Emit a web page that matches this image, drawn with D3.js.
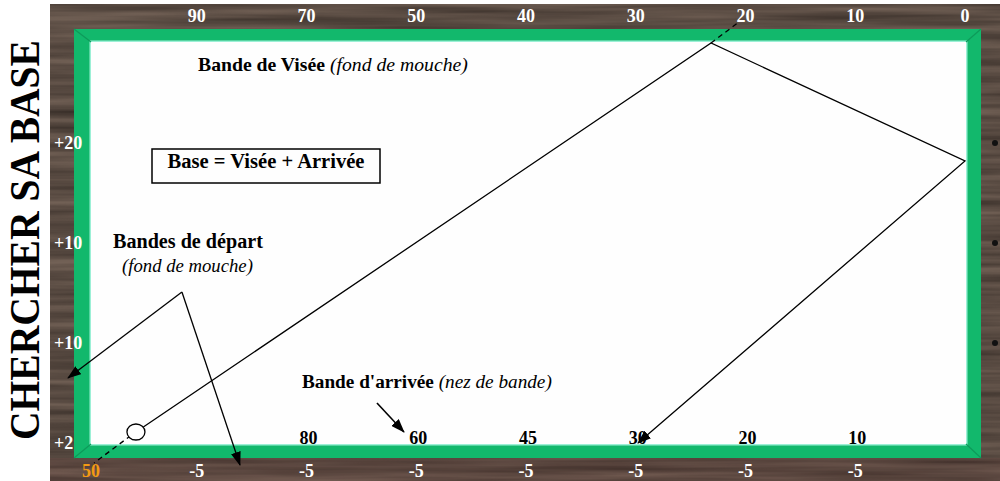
<!DOCTYPE html>
<html><head><meta charset="utf-8">
<script src="https://cdn.jsdelivr.net/npm/d3@7"></script>
<style>body{margin:0;background:#fff}svg{display:block}</style>
</head><body><svg id="c" width="1000" height="481"></svg>
<script>
// ---- data (diamond units: x 0..8 along long rail, y 0..4 along short rail)
const topLabels = ["90","70","50","40","30","20","10","0"];        // diamonds 1..8
const bottomStartLabel = "50";                                    // diamond 0
const bottomLabels = ["-5","-5","-5","-5","-5","-5","-5"];        // diamonds 1..7
const arrivalLabels = ["80","60","45","30","20","10"];            // diamonds 2..7
const leftLabels = ["+20","+10","+10","+2"];                      // rows 1..4
const sideDiamonds = [1,2,3];
const ball = [0.446,3.89];
const shotPath = [[0.446,3.89],[5.686,0],[8,1.18],[5.02,4.0]];
const aimExtension = [[5.686,0],[5.94,-0.21]];
const ballExtension = [[0.40,3.925],[0.064,4.2]];
const startApex = [0.865,2.49];
const startTargets = [[-0.173,3.35],[1.394,4.22]];
const arrivalPointer = [[2.642,3.6],[2.888,3.89]];

const svg = d3.select("#c");
const W = 1000, H = 481;
const x = d3.scaleLinear().domain([0,8]).range([87,965]);
const y = d3.scaleLinear().domain([0,4]).range([43,443]);
const serif = "'Liberation Serif', 'DejaVu Serif', serif";

const defs = svg.append("defs");
const f = defs.append("filter").attr("id","wood").attr("x",0).attr("y",0).attr("width","100%").attr("height","100%")
  .attr("color-interpolation-filters","sRGB");
f.append("feTurbulence").attr("type","fractalNoise").attr("baseFrequency","0.004 0.12").attr("numOctaves",3).attr("seed",7);
f.append("feColorMatrix").attr("type","matrix")
 .attr("values","0.32 0 0 0 0.19  0.28 0 0 0 0.155  0.25 0 0 0 0.135  0 0 0 0 1");
defs.append("marker").attr("id","ah").attr("viewBox","0 0 14 10").attr("refX",13).attr("refY",5)
 .attr("markerWidth",14).attr("markerHeight",10).attr("markerUnits","userSpaceOnUse").attr("orient","auto")
 .append("path").attr("d","M0,0L14,5L0,10z").attr("fill","#000");

// wood frame
svg.append("rect").attr("x",50).attr("y",4).attr("width",W-50).attr("height",H-4).attr("fill","#574838");
svg.append("rect").attr("x",50).attr("y",4).attr("width",W-50).attr("height",H-4).attr("filter","url(#wood)");
svg.append("rect").attr("x",50).attr("y",458).attr("width",W-50).attr("height",H-458).attr("fill","#7a3c3c").attr("opacity",0.12);
// green cushions
const o = {x0:74,y0:29,x1:981,y1:458}, i = {x0:91,y0:42,x1:966,y1:444};
svg.append("rect").attr("x",o.x0).attr("y",o.y0).attr("width",o.x1-o.x0).attr("height",o.y1-o.y0).attr("fill","#12b86c");
svg.append("rect").attr("x",i.x0-1.5).attr("y",i.y0-1.5).attr("width",i.x1-i.x0+3).attr("height",i.y1-i.y0+3).attr("fill","#9cf0d6");
svg.append("rect").attr("x",i.x0).attr("y",i.y0).attr("width",i.x1-i.x0).attr("height",i.y1-i.y0).attr("fill","#fefefe");
[[o.x0,o.y0,i.x0,i.y0],[o.x1,o.y0,i.x1,i.y0],[o.x0,o.y1,i.x0,i.y1],[o.x1,o.y1,i.x1,i.y1]].forEach(c=>{
  svg.append("line").attr("x1",c[0]).attr("y1",c[1]).attr("x2",c[2]).attr("y2",c[3]).attr("stroke","#0e9a5a").attr("stroke-width",1.2);
});

// side diamonds
svg.selectAll(".dia").data(sideDiamonds).join("circle").attr("cx",995).attr("cy",d=>y(d)).attr("r",3).attr("fill","#111");

// labels
const lab = svg.append("g").attr("font-family",serif).attr("font-weight","bold").attr("font-size",18);
lab.selectAll(".tl").data(topLabels).join("text").attr("x",(d,k)=>x(k+1)).attr("y",22).attr("text-anchor","middle").attr("fill","#fff").text(d=>d);
lab.selectAll(".bl").data(bottomLabels).join("text").attr("x",(d,k)=>x(k+1)).attr("y",477).attr("text-anchor","middle").attr("fill","#fff").text(d=>d);
lab.append("text").attr("x",x(0)+4).attr("y",477).attr("text-anchor","middle").attr("fill","#f39a14").text(bottomStartLabel);
lab.selectAll(".al").data(arrivalLabels).join("text").attr("x",(d,k)=>x(k+2)+2).attr("y",444).attr("text-anchor","middle").attr("fill","#000").text(d=>d);
lab.selectAll(".ll").data(leftLabels).join("text").attr("x",54).attr("y",(d,k)=>y(k+1)+6).attr("fill","#fff").text(d=>d);

function fit(t, w){ const m=t.node().getComputedTextLength(); const fs=parseFloat(t.attr("font-size")); t.attr("font-size",fs*w/m); }

// title
const title = svg.append("text").attr("transform","translate(39,240) rotate(-90)").attr("text-anchor","middle")
  .attr("font-family",serif).attr("font-weight","bold").attr("font-size",42).attr("fill","#000").text("CHERCHER SA BASE");
title.attr("textLength",400).attr("lengthAdjust","spacingAndGlyphs");

// annotation texts
function mixed(xp, yp, b, it, w){
  const t = svg.append("text").attr("x",xp).attr("y",yp).attr("font-family",serif).attr("font-size",16).attr("fill","#000");
  if(b) t.append("tspan").attr("font-weight","bold").text(b);
  if(it) t.append("tspan").attr("font-style","italic").text(it);
  fit(t,w); return t;
}
mixed(198,71,"Bande de Visée ","(fond de mouche)",270);
svg.append("rect").attr("x",152).attr("y",149).attr("width",228).attr("height",34).attr("fill","none").attr("stroke","#000").attr("stroke-width",1.5);
const bt = mixed(0,0,"Base = Visée + Arrivée",null,197); bt.attr("x",266).attr("y",168).attr("text-anchor","middle");
mixed(113,248,"Bandes de départ",null,150);
mixed(122,272,null,"(fond de mouche)",131);
mixed(302,388,"Bande d'arrivée ","(nez de bande)",250);

// lines
const line = d3.line().x(d=>x(d[0])).y(d=>y(d[1]));
const g = svg.append("g").attr("fill","none").attr("stroke","#000").attr("stroke-width",1.3);
g.append("path").attr("d",line(shotPath)).attr("marker-end","url(#ah)");
g.append("path").attr("d",line(aimExtension)).attr("stroke-dasharray","5,4");
g.append("path").attr("d",line(ballExtension)).attr("stroke-dasharray","5,4");
startTargets.forEach(t=> g.append("path").attr("d",line([startApex,t])).attr("marker-end","url(#ah)"));
g.append("path").attr("d",line(arrivalPointer)).attr("stroke-width",1.6).attr("marker-end","url(#ah)");
svg.append("ellipse").attr("cx",x(ball[0])).attr("cy",y(ball[1])).attr("rx",9).attr("ry",8).attr("fill","#fff").attr("stroke","#000").attr("stroke-width",1.3);
</script></body></html>
